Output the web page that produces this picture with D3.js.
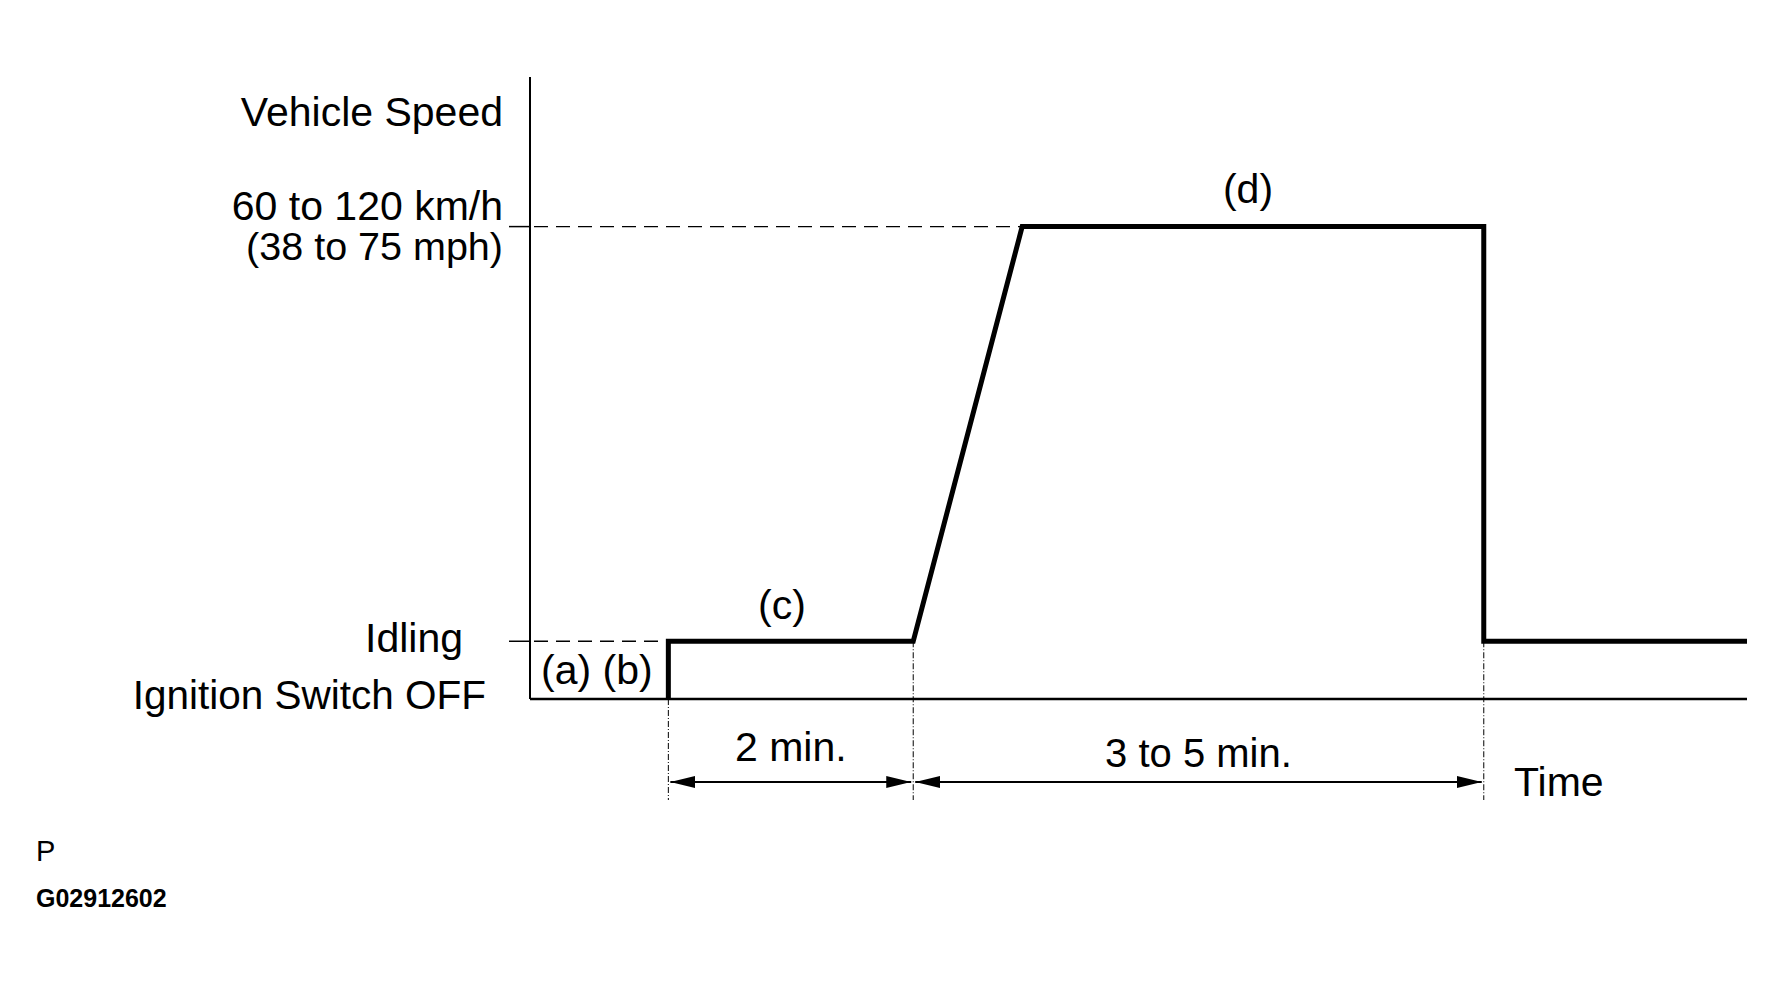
<!DOCTYPE html>
<html>
<head>
<meta charset="utf-8">
<script src="https://cdn.jsdelivr.net/npm/d3@7"></script>
<style>
    body { margin:0; background:#fff; }
    text { font-family: "Liberation Sans", Arial, sans-serif; fill:#000; }
</style>
</head>
<body>
<div id="chart-area"></div>
<script>
// Speed levels (km/h, off / idle / middle of 60-120 band)
var levelNames = ["Ignition Switch OFF", "Idling", "60 to 120 km/h"];
var levelValues = [0, 11, 90];
var axisTop = 118.5;

// Time (minutes) of each corner of the profile
var profileTime  = [1.13, 1.13, 3.13, 4.02, 7.79, 7.79, 9.94];
var profileSpeed = [0,    11,   11,   90,   90,   11,   11];
var timeEnd = 9.94;

// Phase marks under the plot
var phaseBounds = [1.13, 3.13, 7.79];
var phaseLabels = ["2 min.", "3 to 5 min."];
var stepLabels = ["(a) (b)", "(c)", "(d)"];

SpeedChart=function(_parentElement){
    this.parentElement=_parentElement;
    this.initVis();
};

SpeedChart.prototype.initVis=function(){
    let vis=this;

    vis.fs = "41px";

    vis.svg = d3.select(vis.parentElement).append("svg")
        .attr("width", 1785)
        .attr("height", 983);

    vis.x = d3.scaleLinear().domain([0, timeEnd]).range([530, 1747]);
    vis.y = d3.scaleLinear().domain([0, axisTop]).range([699, 77]);

    vis.data = profileTime.map(function(t,i){ return {t:t, v:profileSpeed[i]}; });

    let defs = vis.svg.append("defs");
    defs.append("marker")
        .attr("id","arrow")
        .attr("markerUnits","userSpaceOnUse")
        .attr("viewBox","0 0 25 12")
        .attr("markerWidth",25).attr("markerHeight",12)
        .attr("refX",25).attr("refY",6)
        .attr("orient","auto-start-reverse")
        .append("path").attr("d","M0,0 L25,6 L0,12 Z").attr("fill","#000");

    vis.updateVis();
};

SpeedChart.prototype.updateVis=function(){
    let vis=this;
    let x=vis.x, y=vis.y;
    let idle=levelValues[1], top=levelValues[2];

    //----Axes---------------------------
    vis.svg.append("line")
        .attr("x1",x(0)).attr("x2",x(0))
        .attr("y1",y(axisTop)).attr("y2",y(0))
        .attr("stroke","#000").attr("stroke-width",2);
    vis.svg.append("line")
        .attr("x1",x(0)).attr("x2",x(timeEnd))
        .attr("y1",y(0)).attr("y2",y(0))
        .attr("stroke","#000").attr("stroke-width",2.5);

    //----Reference levels (tick + dashes)
    [[top, profileTime[3]], [idle, profileTime[1]]].forEach(function(r){
        vis.svg.append("line")
            .attr("x1",x(0)-21).attr("x2",x(0))
            .attr("y1",y(r[0])).attr("y2",y(r[0]))
            .attr("stroke","#000").attr("stroke-width",1.5);
        vis.svg.append("line")
            .attr("x1",x(0)+4).attr("x2",x(r[1]))
            .attr("y1",y(r[0])).attr("y2",y(r[0]))
            .attr("stroke","#000").attr("stroke-width",1.3)
            .attr("stroke-dasharray","14,8");
    });

    //----Phase guide lines--------------
    phaseBounds.forEach(function(t,i){
        vis.svg.append("line")
            .attr("x1",x(t)).attr("x2",x(t))
            .attr("y1",i==0 ? y(0) : y(idle)).attr("y2",800)
            .attr("stroke","#000").attr("stroke-width",1)
            .attr("stroke-dasharray","6,2,1,2");
    });

    //----Speed profile------------------
    var line = d3.line()
        .x(function(d){ return x(d.t); })
        .y(function(d){ return y(d.v); });
    vis.svg.append("path")
        .attr("d", line(vis.data))
        .attr("fill","none")
        .attr("stroke","#000")
        .attr("stroke-width",5)
        .attr("stroke-linejoin","miter");

    //----Duration arrows----------------
    for (let i=0;i<phaseLabels.length;i++){
        let a=x(phaseBounds[i]), b=x(phaseBounds[i+1]);
        vis.svg.append("line")
            .attr("x1",a+2).attr("x2",b-2)
            .attr("y1",782).attr("y2",782)
            .attr("stroke","#000").attr("stroke-width",2)
            .attr("marker-start","url(#arrow)")
            .attr("marker-end","url(#arrow)");
    }
    vis.svg.append("text").attr("x",(x(phaseBounds[0])+x(phaseBounds[1]))/2).attr("y",761)
        .attr("text-anchor","middle").attr("font-size",vis.fs).text(phaseLabels[0]);
    vis.svg.append("text").attr("x",(x(phaseBounds[1])+x(phaseBounds[2]))/2).attr("y",767)
        .attr("text-anchor","middle").attr("font-size","40px").text(phaseLabels[1]);
    vis.svg.append("text").attr("x",1514).attr("y",796)
        .attr("font-size",vis.fs).text("Time");

    //----Level labels-------------------
    vis.svg.append("text").attr("x",503).attr("y",126)
        .attr("text-anchor","end").attr("font-size",vis.fs).text("Vehicle Speed");
    vis.svg.append("text").attr("x",503).attr("y",y(top)-7)
        .attr("text-anchor","end").attr("font-size",vis.fs).text(levelNames[2]);
    vis.svg.append("text").attr("x",503).attr("y",y(top)+33)
        .attr("text-anchor","end").attr("font-size","39.5px").text("(38 to 75 mph)");
    vis.svg.append("text").attr("x",463).attr("y",y(idle)+11)
        .attr("text-anchor","end").attr("font-size",vis.fs).text(levelNames[1]);
    vis.svg.append("text").attr("x",486).attr("y",y(0)+10)
        .attr("text-anchor","end").attr("font-size","40.5px").text(levelNames[0]);

    //----Step labels--------------------
    vis.svg.append("text").attr("x",541).attr("y",684)
        .attr("font-size",vis.fs).text(stepLabels[0]);
    vis.svg.append("text").attr("x",782).attr("y",619)
        .attr("text-anchor","middle").attr("font-size",vis.fs).text(stepLabels[1]);
    vis.svg.append("text").attr("x",1248).attr("y",203)
        .attr("text-anchor","middle").attr("font-size",vis.fs).text(stepLabels[2]);

    //----Figure codes-------------------
    vis.svg.append("text").attr("x",36).attr("y",861)
        .attr("font-size","29px").text("P");
    vis.svg.append("text").attr("x",36).attr("y",907)
        .attr("font-size","25px").attr("font-weight","bold").text("G02912602");
};

new SpeedChart("#chart-area");
</script>
</body>
</html>
